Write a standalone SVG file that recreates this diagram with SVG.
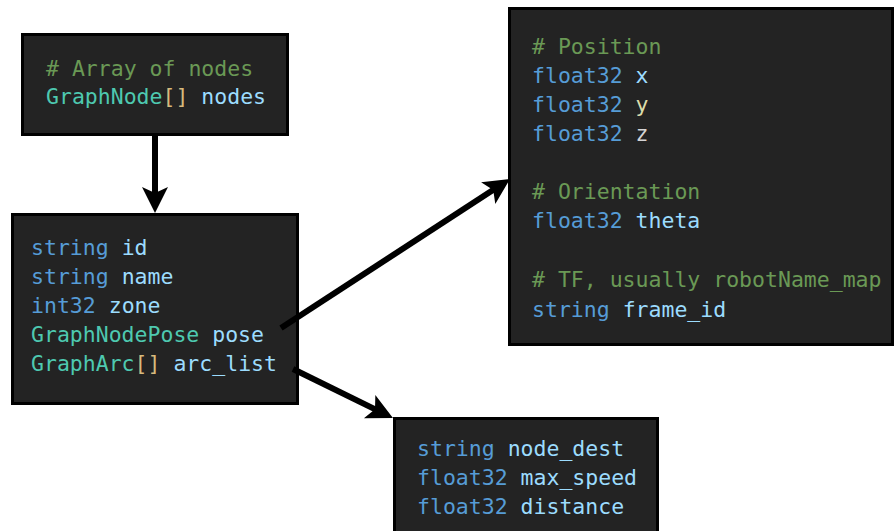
<svg xmlns="http://www.w3.org/2000/svg" width="895" height="531" viewBox="0 0 895 531">
  <style>
    .box { fill: #232323; stroke: #000; stroke-width: 3; }
    .code { font-family: "DejaVu Sans Mono", "Liberation Mono", monospace; font-size: 21.5px; white-space: pre; }
    .cm { fill: #6a9955; }
    .kw { fill: #569cd6; }
    .ty { fill: #4ec9b0; }
    .br { fill: #d7ba7d; }
    .id { fill: #9cdcfe; }
    .fn { fill: #dcdcaa; }
    .pl { fill: #d4d4d4; }
    .edge { stroke: #000; stroke-width: 6; fill: none; marker-end: url(#head); }
  </style>
  <defs>
    <marker id="head" markerUnits="userSpaceOnUse" viewBox="-10 -14 30 28" markerWidth="30" markerHeight="28" refX="0" refY="0" orient="auto">
      <path d="M18,0 L-8,-13 L-2,0 L-8,13 Z" fill="#000"/>
    </marker>
  </defs>
  <rect width="895" height="531" fill="#fff"/>

  <g id="graph-nodes">
    <rect class="box" x="22.5" y="34.5" width="265" height="100"/>
    <text class="code" x="46" y="76"><tspan class="cm"># Array of nodes</tspan></text>
    <text class="code" x="46" y="104"><tspan class="ty">GraphNode</tspan><tspan class="br">[]</tspan> <tspan class="id">nodes</tspan></text>
  </g>

  <g id="graph-node">
    <rect class="box" x="12.5" y="214.5" width="285" height="189"/>
    <text class="code" x="31" y="255"><tspan class="kw">string</tspan> <tspan class="id">id</tspan></text>
    <text class="code" x="31" y="284"><tspan class="kw">string</tspan> <tspan class="id">name</tspan></text>
    <text class="code" x="31" y="313"><tspan class="kw">int32</tspan> <tspan class="id">zone</tspan></text>
    <text class="code" x="31" y="342"><tspan class="ty">GraphNodePose</tspan> <tspan class="id">pose</tspan></text>
    <text class="code" x="31" y="371"><tspan class="ty">GraphArc</tspan><tspan class="br">[]</tspan> <tspan class="id">arc_list</tspan></text>
  </g>

  <g id="graph-node-pose">
    <rect class="box" x="509.5" y="8.5" width="383" height="336"/>
    <text class="code" x="532" y="54"><tspan class="cm"># Position</tspan></text>
    <text class="code" x="532" y="83"><tspan class="kw">float32</tspan> <tspan class="id">x</tspan></text>
    <text class="code" x="532" y="112"><tspan class="kw">float32</tspan> <tspan class="fn">y</tspan></text>
    <text class="code" x="532" y="141"><tspan class="kw">float32</tspan> <tspan class="pl">z</tspan></text>
    <text class="code" x="532" y="199"><tspan class="cm"># Orientation</tspan></text>
    <text class="code" x="532" y="228"><tspan class="kw">float32</tspan> <tspan class="id">theta</tspan></text>
    <text class="code" x="532" y="287"><tspan class="cm"># TF, usually robotName_map</tspan></text>
    <text class="code" x="532" y="317"><tspan class="kw">string</tspan> <tspan class="id">frame_id</tspan></text>
  </g>

  <g id="graph-arc">
    <rect class="box" x="394.5" y="418.5" width="263" height="130"/>
    <text class="code" x="417" y="456"><tspan class="kw">string</tspan> <tspan class="id">node_dest</tspan></text>
    <text class="code" x="417" y="485"><tspan class="kw">float32</tspan> <tspan class="id">max_speed</tspan></text>
    <text class="code" x="417" y="514"><tspan class="kw">float32</tspan> <tspan class="id">distance</tspan></text>
  </g>

  <g id="connectors">
    <line class="edge" x1="155" y1="136" x2="155" y2="195"/>
    <line class="edge" x1="281" y1="328" x2="494.9" y2="188.8"/>
    <line class="edge" x1="293" y1="369" x2="376.8" y2="410.1"/>
  </g>
</svg>
